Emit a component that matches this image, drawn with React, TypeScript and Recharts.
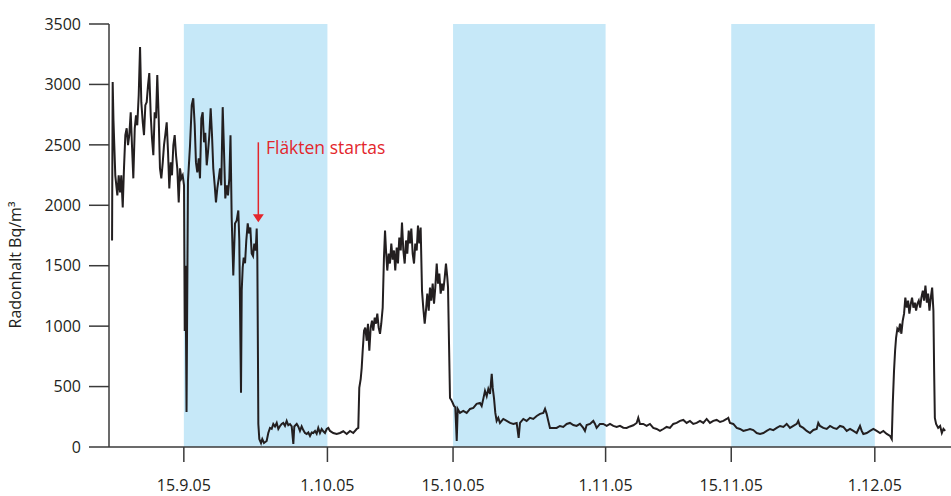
import React from 'react';
import {
  LineChart,
  Line,
  XAxis,
  YAxis,
  ReferenceArea,
  ReferenceLine,
  ReferenceDot,
} from 'recharts';

// Day numbers count from 1.9.2005 (day 0). Readings are [day, Bq/m³].
const beforeFan: [number, number][] = [
  [6.0, 1708], [6.07, 3020], [6.16, 2700], [6.36, 2248], [6.59, 2082], [6.74, 2248], [6.89, 2107],
  [7.03, 2248], [7.19, 1982], [7.33, 2306], [7.48, 2580], [7.63, 2637], [7.78, 2497], [7.92, 2580],
  [8.08, 2770], [8.22, 2497], [8.37, 2223], [8.53, 2637], [8.67, 2745], [8.81, 2662], [8.97, 2911],
  [9.12, 3309], [9.26, 2853], [9.42, 2687], [9.56, 2580], [9.71, 2828], [9.86, 2853], [10.01, 2994],
  [10.15, 3094], [10.31, 2745], [10.45, 2555], [10.6, 2414], [10.75, 2770], [10.9, 2720], [11.04, 3077],
  [11.2, 2720], [11.34, 2306], [11.49, 2223], [11.65, 2355], [11.79, 2497], [11.93, 2580], [12.09, 2687],
  [12.24, 2438], [12.38, 2140], [12.54, 2355], [12.68, 2248], [12.83, 2497], [12.98, 2580], [13.13, 2414],
  [13.27, 2306], [13.43, 2024], [13.57, 2306], [13.72, 2223], [13.87, 2248], [14.02, 2165], [14.1, 960],
  [14.19, 1500], [14.3, 290], [14.46, 2200], [14.69, 2497], [14.88, 2828], [15.05, 2886], [15.21, 2662],
  [15.35, 2355], [15.5, 2273], [15.66, 2389], [15.8, 2223], [15.95, 2720], [16.1, 2770], [16.25, 2521],
  [16.39, 2600], [16.55, 2331], [16.69, 2438], [16.84, 2580], [16.99, 2803], [17.14, 2580], [17.28, 2306],
  [17.44, 2165], [17.58, 2024], [17.73, 2140], [17.89, 2223], [18.03, 2306], [18.17, 2165], [18.33, 2812],
  [18.48, 2438], [18.62, 2057], [18.78, 2165], [18.92, 2082], [19.07, 2223], [19.2, 2580], [19.33, 1900],
  [19.51, 1420], [19.7, 1850], [19.89, 1874], [20.07, 1957], [20.18, 1709], [20.29, 962], [20.37, 448],
  [20.45, 1294], [20.56, 1485], [20.67, 1568], [20.82, 1520], [20.96, 1709], [21.12, 1850], [21.26, 1767],
  [21.41, 1816], [21.56, 1601], [21.71, 1580], [21.85, 1684], [22.01, 1626], [22.12, 1808], [22.19, 1570],
];

const fanStarted: [number, number][] = [
  [22.26, 738], [22.3, 191], [22.41, 66], [22.6, 33], [22.74, 66], [22.93, 33], [23.23, 50],
  [23.41, 116], [23.6, 158], [23.79, 150], [23.97, 191], [24.16, 170], [24.35, 199], [24.53, 149],
  [24.72, 174], [24.9, 190], [25.08, 199], [25.27, 175], [25.46, 216], [25.64, 180], [25.83, 190],
  [26.02, 170], [26.2, 25], [26.31, 170], [26.58, 191], [26.75, 170], [26.94, 133], [27.13, 170],
  [27.31, 140], [27.5, 116], [27.69, 108], [27.87, 120], [28.06, 91], [28.25, 120], [28.43, 116],
  [28.62, 133], [28.8, 110], [28.98, 158], [29.17, 116], [29.36, 149], [29.54, 130], [29.73, 116],
  [29.92, 149], [30.1, 158], [30.29, 133], [30.65, 116], [31.03, 108], [31.4, 116], [31.77, 130],
  [32.15, 108], [32.52, 133], [32.88, 116], [33.26, 149], [33.44, 158],
];

const octoberRise: [number, number][] = [
  [33.55, 489], [33.71, 564], [33.82, 655], [33.93, 796], [34.08, 962], [34.22, 987], [34.38, 879],
  [34.52, 1020], [34.67, 796], [34.82, 987], [34.97, 1045], [35.11, 962], [35.27, 1070], [35.41, 1020],
  [35.56, 1103], [35.71, 987], [35.86, 937], [36.0, 1020], [36.16, 1153], [36.3, 1568], [36.42, 1791],
  [36.53, 1626], [36.67, 1460], [36.83, 1600], [36.97, 1518], [37.12, 1684], [37.27, 1550], [37.42, 1626],
  [37.56, 1460], [37.72, 1650], [37.86, 1518], [38.01, 1733], [38.17, 1626], [38.31, 1858], [38.46, 1626],
  [38.61, 1518], [38.76, 1709], [38.9, 1600], [39.06, 1791], [39.2, 1684], [39.35, 1808], [39.5, 1600],
  [39.65, 1518], [39.79, 1684], [39.95, 1626], [40.09, 1833], [40.24, 1684], [40.39, 1816], [40.54, 1294],
  [40.68, 1153], [40.84, 1020], [40.98, 1128], [41.13, 1269], [41.29, 1128], [41.43, 1319], [41.57, 1211],
  [41.73, 1352], [41.88, 1186], [42.02, 1319], [42.18, 1518], [42.32, 1352], [42.47, 1435], [42.62, 1269],
  [42.77, 1352], [42.91, 1294], [43.07, 1402], [43.21, 1518], [43.36, 1402], [43.44, 1319], [43.55, 854],
  [43.66, 406], [43.8, 390], [43.96, 365], [44.1, 340], [44.25, 330], [44.41, 50], [44.52, 315],
  [44.77, 282], [45.14, 299], [45.52, 282], [45.89, 315], [46.26, 323], [46.63, 357], [47.0, 365],
  [47.19, 340], [47.37, 398], [47.56, 464], [47.75, 420], [47.93, 481], [48.12, 440], [48.31, 605],
  [48.42, 489], [48.56, 406], [48.71, 282], [48.86, 216], [49.04, 241], [49.23, 199],
];

const lateAutumn: [number, number][] = [
  [49.6, 232], [49.98, 216], [50.35, 199], [50.72, 191], [51.09, 199], [51.31, 75], [51.46, 199],
  [51.83, 232], [52.2, 216], [52.57, 241], [52.94, 232], [53.32, 257], [53.69, 274], [54.06, 282],
  [54.25, 315], [54.43, 274], [54.61, 216], [54.8, 158], [55.17, 158], [55.54, 158], [55.91, 174],
  [56.28, 166], [56.66, 191], [57.03, 199], [57.4, 182], [57.77, 174], [58.14, 191], [58.51, 158],
  [58.7, 133], [58.89, 182], [59.26, 191], [59.63, 216], [59.82, 191], [60.0, 158], [60.37, 191],
  [60.74, 191], [61.12, 175], [61.49, 191], [61.86, 175], [62.23, 166], [62.6, 175], [62.97, 160],
  [63.35, 158], [63.72, 170], [64.09, 180], [64.46, 199], [64.64, 241], [64.83, 190], [65.2, 191],
  [65.57, 175], [65.94, 191], [66.31, 158], [66.69, 149], [67.06, 133], [67.43, 149], [67.8, 166],
  [68.17, 158], [68.54, 191], [68.92, 199], [69.29, 216], [69.66, 224], [70.03, 199], [70.4, 216],
  [70.77, 191], [71.15, 199], [71.52, 216], [71.89, 199], [72.26, 232], [72.63, 199], [73.0, 216],
  [73.38, 224], [73.75, 207], [74.12, 216], [74.49, 232], [74.67, 241], [74.86, 199], [75.23, 191],
  [75.61, 158], [75.98, 149], [76.35, 133], [76.72, 140], [77.09, 149], [77.46, 140], [77.84, 116],
  [78.21, 108], [78.58, 116], [78.95, 133], [79.32, 149], [79.69, 140], [80.07, 158], [80.44, 174],
  [80.81, 166], [81.18, 191], [81.55, 158], [81.92, 174], [82.3, 191], [82.47, 216], [82.66, 174],
  [83.03, 158], [83.41, 133], [83.78, 116], [84.15, 141], [84.52, 149], [84.7, 199], [84.89, 174],
  [85.26, 158], [85.64, 149], [86.01, 174], [86.38, 158], [86.75, 149], [87.12, 174], [87.49, 166],
  [87.87, 133], [88.24, 149], [88.61, 133], [88.98, 116], [89.35, 174], [89.54, 133], [89.72, 108],
  [90.1, 116], [90.47, 133], [90.84, 149], [91.21, 133], [91.58, 116], [91.95, 133], [92.33, 108],
  [92.7, 91], [92.89, 66],
];

const decemberRise: [number, number][] = [
  [93.0, 357], [93.14, 630], [93.26, 796], [93.37, 904], [93.51, 979], [93.67, 962], [93.81, 1020],
  [93.96, 937], [94.11, 1045], [94.26, 1103], [94.4, 1236], [94.56, 1153], [94.71, 1211], [94.85, 1103],
  [95.01, 1186], [95.15, 1236], [95.3, 1153], [95.46, 1194], [95.6, 1128], [95.75, 1186], [95.9, 1211],
  [96.05, 1153], [96.19, 1236], [96.35, 1294], [96.49, 1211], [96.64, 1335], [96.8, 1194], [96.94, 1269],
  [97.09, 1128], [97.24, 1236], [97.39, 1319], [97.53, 1128], [97.61, 630], [97.69, 241], [97.83, 191],
  [98.06, 158], [98.28, 174], [98.47, 116], [98.65, 149], [98.84, 133],
];

const tickDays = [14, 30, 44, 61, 75, 91];
const tickLabels = ['15.9.05', '1.10.05', '15.10.05', '1.11.05', '15.11.05', '1.12.05'];
const radonTicks = [0, 500, 1000, 1500, 2000, 2500, 3000, 3500];

// shaded half-months
const bandStart = [14, 44, 75];
const bandEnd = [30, 61, 91];

// fan start marker
const fanDay = 22.3;
const arrowTop = 2521;
const arrowTip = 1860;
const fanText = 'Fläkten startas';

const data = [...beforeFan, ...fanStarted, ...octoberRise, ...lateAutumn, ...decemberRise].map(
  ([day, radon]) => ({ day, radon })
);

const INK = '#231f20';
const AXIS = '#3a3a3a';
const RED = '#e3262c';
const BLUE = '#c6e8f8';
const FONT = '"Open Sans", sans-serif';

const dayLabel = (d: number) => tickLabels[tickDays.indexOf(d)] ?? '';

export default function App() {
  return (
    <div style={{ position: 'absolute', left: 0, top: 0 }}>
      <LineChart
        width={951}
        height={496}
        data={data}
        margin={{ top: 24, right: 0, bottom: 0, left: 0 }}
        style={{ fontFamily: FONT }}
      >
        {bandStart.map((x1, i) => (
          <ReferenceArea
            key={x1}
            x1={x1}
            x2={bandEnd[i]}
            y1={0}
            y2={3500}
            fill={BLUE}
            fillOpacity={1}
            stroke="none"
          />
        ))}
        <XAxis
          dataKey="day"
          type="number"
          domain={[5.66, 99.49]}
          allowDataOverflow
          ticks={tickDays}
          interval={0}
          tickFormatter={dayLabel}
          height={49}
          tickSize={15}
          tickMargin={18}
          axisLine={{ stroke: AXIS, strokeWidth: 1.5 }}
          tickLine={{ stroke: AXIS, strokeWidth: 1.5 }}
          tick={{ fill: INK, fontSize: 16 }}
        />
        <YAxis
          type="number"
          domain={[0, 3500]}
          ticks={radonTicks}
          interval={0}
          width={109}
          tickSize={20}
          tickMargin={8}
          axisLine={{ stroke: AXIS, strokeWidth: 1.5 }}
          tickLine={{ stroke: AXIS, strokeWidth: 1.5 }}
          tick={{ fill: INK, fontSize: 16 }}
          label={() => (
            <text
              transform="translate(21,265) rotate(-90)"
              textAnchor="middle"
              fill={INK}
              fontSize={16}
              fontFamily={FONT}
            >
              Radonhalt Bq/m³
            </text>
          )}
        />
        <Line
          type="linear"
          dataKey="radon"
          stroke={INK}
          strokeWidth={2}
          dot={false}
          activeDot={false}
          isAnimationActive={false}
        />
        <ReferenceLine
          segment={[
            { x: fanDay, y: arrowTop },
            { x: fanDay, y: arrowTip + 60 },
          ]}
          stroke={RED}
          strokeWidth={1.5}
        />
        <ReferenceDot
          x={fanDay}
          y={arrowTip}
          shape={(p: any) => (
            <polygon
              points={`${p.cx - 5.5},${p.cy - 8} ${p.cx + 5.5},${p.cy - 8} ${p.cx},${p.cy}`}
              fill={RED}
            />
          )}
        />
        <ReferenceDot
          x={fanDay + 0.85}
          y={2422}
          shape={(p: any) => (
            <text x={p.cx} y={p.cy} fill={RED} fontSize={17.5} fontFamily={FONT}>
              {fanText}
            </text>
          )}
        />
      </LineChart>
    </div>
  );
}
